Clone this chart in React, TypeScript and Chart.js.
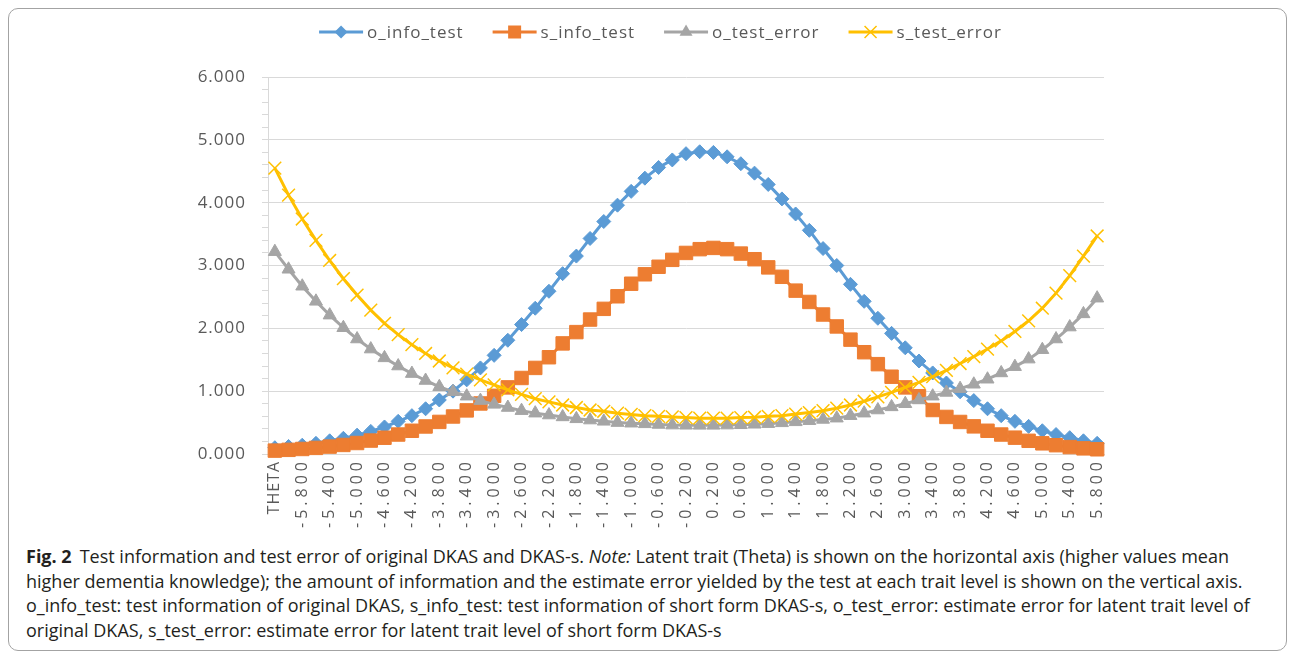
import React, { useEffect, useRef } from 'react';
import { Chart, registerables } from 'chart.js';

Chart.register(...registerables);

const thetaLabels = ["THETA","-6.000","-5.800","-5.600","-5.400","-5.200","-5.000","-4.800","-4.600","-4.400","-4.200","-4.000","-3.800","-3.600","-3.400","-3.200","-3.000","-2.800","-2.600","-2.400","-2.200","-2.000","-1.800","-1.600","-1.400","-1.200","-1.000","-0.800","-0.600","-0.400","-0.200","0.000","0.200","0.400","0.600","0.800","1.000","1.200","1.400","1.600","1.800","2.000","2.200","2.400","2.600","2.800","3.000","3.200","3.400","3.600","3.800","4.000","4.200","4.400","4.600","4.800","5.000","5.200","5.400","5.600","5.800"];

const oInfoTest = [
  0.10, 0.12, 0.14, 0.17, 0.21, 0.25, 0.30, 0.36, 0.43, 0.52,
  0.61, 0.72, 0.86, 1.00, 1.18, 1.37, 1.57, 1.81, 2.06, 2.32,
  2.59, 2.87, 3.15, 3.43, 3.70, 3.96, 4.18, 4.39, 4.56, 4.68,
  4.78, 4.81, 4.80, 4.73, 4.62, 4.47, 4.29, 4.06, 3.82, 3.56,
  3.27, 3.00, 2.70, 2.43, 2.16, 1.92, 1.69, 1.48, 1.29, 1.13,
  0.99, 0.85, 0.72, 0.61, 0.52, 0.44, 0.37, 0.31, 0.26, 0.21, 0.17,
];

const sInfoTest = [
  0.054, 0.066, 0.080, 0.097, 0.118, 0.144, 0.175, 0.214, 0.259, 0.310,
  0.370, 0.438, 0.511, 0.597, 0.694, 0.804, 0.926, 1.060, 1.210, 1.370,
  1.54, 1.76, 1.94, 2.14, 2.31, 2.51, 2.71, 2.86, 2.98, 3.09,
  3.20, 3.26, 3.28, 3.26, 3.19, 3.10, 2.97, 2.82, 2.60, 2.42,
  2.22, 2.03, 1.82, 1.62, 1.43, 1.23, 1.06, 0.92, 0.70, 0.59,
  0.51, 0.44, 0.37, 0.31, 0.26, 0.21, 0.17, 0.14, 0.11, 0.09, 0.075,
];

const oTestError = [
  3.22, 2.94, 2.67, 2.43, 2.21, 2.01, 1.83, 1.67, 1.53, 1.40,
  1.28, 1.17, 1.07, 0.99, 0.92, 0.85, 0.79, 0.74, 0.69, 0.65,
  0.62, 0.59, 0.56, 0.54, 0.52, 0.50, 0.49, 0.48, 0.47, 0.46,
  0.457, 0.456, 0.456, 0.46, 0.465, 0.473, 0.483, 0.496, 0.512, 0.53,
  0.55, 0.57, 0.61, 0.65, 0.70, 0.75, 0.80, 0.86, 0.92, 0.98,
  1.04, 1.11, 1.19, 1.29, 1.39, 1.51, 1.66, 1.83, 2.02, 2.23, 2.48,
];

const sTestError = [
  4.55, 4.12, 3.74, 3.40, 3.08, 2.79, 2.53, 2.29, 2.08, 1.90,
  1.74, 1.60, 1.48, 1.37, 1.27, 1.18, 1.10, 1.02, 0.95, 0.88,
  0.83, 0.78, 0.74, 0.70, 0.68, 0.65, 0.63, 0.61, 0.60, 0.59,
  0.58, 0.57, 0.57, 0.57, 0.58, 0.585, 0.60, 0.61, 0.635, 0.66,
  0.69, 0.73, 0.78, 0.84, 0.91, 0.98, 1.06, 1.14, 1.23, 1.33,
  1.44, 1.55, 1.67, 1.80, 1.95, 2.12, 2.32, 2.56, 2.84, 3.15, 3.47,
];

const seriesNames = ["o_info_test", "s_info_test", "o_test_error", "s_test_error"];
const seriesColors = ["#5B9BD5", "#ED7D31", "#A5A5A5", "#FFC000"];
const seriesMarkers = ["diamond", "square", "triangle", "cross"];
const yTickValues = [0, 1, 2, 3, 4, 5, 6];

const FONT = '"Open Sans", "Noto Sans", "DejaVu Sans", sans-serif';
const TEXT = '#595959';
const GRID = '#d9d9d9';

function drawMarker(ctx: CanvasRenderingContext2D, kind: string, x: number, y: number, color: string) {
  ctx.save();
  ctx.fillStyle = color;
  ctx.strokeStyle = color;
  ctx.beginPath();
  if (kind === 'diamond') {
    const r = 6.5;
    ctx.moveTo(x - r, y); ctx.lineTo(x, y - r); ctx.lineTo(x + r, y); ctx.lineTo(x, y + r);
    ctx.closePath(); ctx.fill();
  } else if (kind === 'square') {
    ctx.rect(x - 6.5, y - 6.5, 13, 13); ctx.fill();
  } else if (kind === 'triangle') {
    const r = 7.5;
    ctx.moveTo(x, y - r); ctx.lineTo(x + r * 0.866, y + r / 2); ctx.lineTo(x - r * 0.866, y + r / 2);
    ctx.closePath(); ctx.fill();
  } else {
    const d = 6;
    ctx.lineWidth = 1.5;
    ctx.moveTo(x - d, y - d); ctx.lineTo(x + d, y + d);
    ctx.moveTo(x + d, y - d); ctx.lineTo(x - d, y + d);
    ctx.stroke();
  }
  ctx.restore();
}

const customDraw = {
  id: 'customDraw',
  beforeDraw(chart: any) {
    chart.ctx.letterSpacing = '1px';
  },
  afterDraw(chart: any) {
    const ctx: CanvasRenderingContext2D = chart.ctx;
    ctx.save();
    // legend
    ctx.letterSpacing = '1px';
    ctx.font = `17px ${FONT}`;
    const lineLen = 44, gapText = 4, gapItem = 29;
    const widths = seriesNames.map((n) => ctx.measureText(n).width);
    const total = widths.reduce((a, b) => a + b, 0) + seriesNames.length * (lineLen + gapText) + gapItem * (seriesNames.length - 1);
    let x = 651.5 - total / 2;
    const y = 23;
    seriesNames.forEach((name, k) => {
      ctx.strokeStyle = seriesColors[k];
      ctx.lineWidth = 3;
      ctx.beginPath();
      ctx.moveTo(x, y); ctx.lineTo(x + lineLen, y);
      ctx.stroke();
      drawMarker(ctx, seriesMarkers[k], x + lineLen / 2, y, seriesColors[k]);
      ctx.fillStyle = TEXT;
      ctx.textAlign = 'left';
      ctx.textBaseline = 'middle';
      ctx.fillText(name, x + lineLen + gapText, y + 1);
      x += lineLen + gapText + widths[k] + gapItem;
    });
    // x tick labels (rotated)
    const xs = chart.scales.x;
    ctx.font = `16px ${FONT}`;
    ctx.fillStyle = TEXT;
    ctx.textAlign = 'right';
    ctx.textBaseline = 'middle';
    for (let i = 0; i < thetaLabels.length; i += 2) {
      const sp = i === 0 ? 1 : 4;
      ctx.letterSpacing = `${sp}px`;
      const px = xs.getPixelForValue(i);
      ctx.save();
      ctx.translate(px, xs.top + 8 - sp);
      ctx.rotate(-Math.PI / 2);
      ctx.fillText(thetaLabels[i], 0, 0);
      ctx.restore();
    }
    ctx.restore();
    ctx.letterSpacing = '0px';
  },
};

const isMajor = (v: number) => yTickValues.some((t) => Math.abs(t - v) < 1e-6);

export default function App() {
  const ref = useRef<HTMLCanvasElement>(null);
  useEffect(() => {
    const mk = (k: number, data: number[], style: string, radius: number, bw: number) => ({
      label: seriesNames[k],
      data,
      borderColor: seriesColors[k],
      backgroundColor: seriesColors[k],
      borderWidth: 3,
      pointStyle: style,
      pointRadius: radius,
      pointBorderWidth: bw,
      pointBorderColor: seriesColors[k],
      pointBackgroundColor: seriesColors[k],
      tension: 0,
      clip: false,
      order: 4 - k,
    });
    const chart = new Chart(ref.current!, {
      type: 'line',
      data: {
        labels: thetaLabels,
        datasets: [
          mk(0, oInfoTest, 'rectRot', 7, 1),
          mk(1, sInfoTest, 'rect', 9.5, 1),
          mk(2, oTestError, 'triangle', 7.5, 1),
          mk(3, sTestError, 'crossRot', 9, 1.5),
        ],
      },
      options: {
        responsive: false,
        animation: false,
        devicePixelRatio: 1,
        layout: { padding: { left: 150, right: 182, top: 68, bottom: 0 } },
        plugins: { legend: { display: false }, tooltip: { enabled: false } },
        scales: {
          x: {
            offset: true,
            grid: { display: false },
            border: { display: true, color: GRID, width: 1 },
            ticks: { display: false },
            afterFit: (s: any) => { s.height = 90; },
          },
          y: {
            min: 0,
            max: 6,
            afterFit: (s: any) => { s.width = 109; },
            ticks: {
              stepSize: 0.2,
              autoSkip: false,
              padding: 16,
              color: TEXT,
              font: { family: FONT, size: 17 },
              callback: (v: any) => (isMajor(Number(v)) ? Number(v).toFixed(3) : ''),
            },
            grid: {
              color: (c: any) => (c.tick && isMajor(c.tick.value) ? GRID : 'rgba(0,0,0,0)'),
              tickColor: GRID,
              tickLength: 6,
              lineWidth: 1,
            },
            border: { display: true, color: GRID, width: 1 },
          },
        },
      },
      plugins: [customDraw],
    } as any);
    return () => chart.destroy();
  }, []);

  const cap: React.CSSProperties = { whiteSpace: 'nowrap', height: 24.7 };
  return (
    <div style={{ position: 'relative', width: 1279, height: 643, boxSizing: 'border-box', border: '1px solid #a3a3a3', borderRadius: 10, background: '#fff', overflow: 'hidden' }}>
      <canvas ref={ref} width={1277} height={535} style={{ position: 'absolute', left: 0, top: 0, width: 1277, height: 535 }} />
      <div style={{ position: 'absolute', left: 17, top: 535, fontFamily: FONT, fontSize: 18, lineHeight: '24.7px', color: '#231f20' }}>
        <div style={cap}><b>Fig. 2</b><span style={{ marginLeft: 8 }}>Test information and test error of original DKAS and DKAS-s. <i>Note:</i> Latent trait (Theta) is shown on the horizontal axis (higher values mean</span></div>
        <div style={cap}>higher dementia knowledge); the amount of information and the estimate error yielded by the test at each trait level is shown on the vertical axis.</div>
        <div style={cap}>o_info_test: test information of original DKAS, s_info_test: test information of short form DKAS-s, o_test_error: estimate error for latent trait level of</div>
        <div style={cap}>original DKAS, s_test_error: estimate error for latent trait level of short form DKAS-s</div>
      </div>
    </div>
  );
}
